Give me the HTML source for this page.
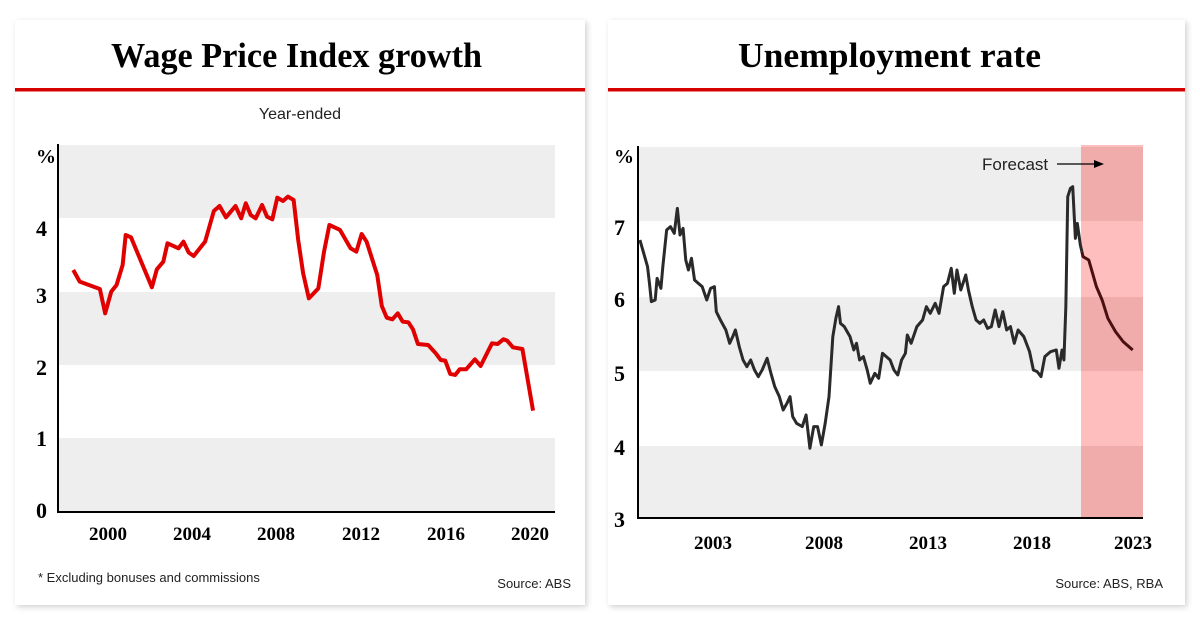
<!DOCTYPE html>
<html><head><meta charset="utf-8"><style>
html,body{margin:0;padding:0;background:#fff;}
svg{display:block;}
</style></head><body>
<svg width="1200" height="617" viewBox="0 0 1200 617" xmlns="http://www.w3.org/2000/svg">
<defs>
<filter id="sh" x="-5%" y="-5%" width="110%" height="110%"><feDropShadow dx="2" dy="2" stdDeviation="3" flood-color="#000" flood-opacity="0.18"/></filter>
</defs>
<rect x="0" y="0" width="1200" height="617" fill="#fff"/>
<rect x="15" y="20" width="570" height="585" fill="#fff" filter="url(#sh)"/>
<rect x="608" y="20" width="577" height="585" fill="#fff" filter="url(#sh)"/>
<rect x="15" y="88" width="570" height="3.5" fill="#d40000"/>
<rect x="608" y="88" width="577" height="3.5" fill="#d40000"/>
<g font-family="Liberation Serif, serif" font-weight="bold" fill="#000">
<text x="111" y="67" font-size="35" textLength="371" lengthAdjust="spacingAndGlyphs">Wage Price Index growth</text>
<text x="738" y="67" font-size="35" textLength="303" lengthAdjust="spacingAndGlyphs">Unemployment rate</text>
</g>
<text x="300" y="119" font-family="Liberation Sans, sans-serif" font-size="16" text-anchor="middle" fill="#222">Year-ended</text>

<!-- left chart -->
<rect x="58" y="145" width="497" height="73" fill="#eeeeee"/>
<rect x="58" y="292" width="497" height="73" fill="#eeeeee"/>
<rect x="58" y="438" width="497" height="74" fill="#eeeeee"/>
<line x1="58" y1="144" x2="58" y2="513" stroke="#000" stroke-width="2"/>
<line x1="57" y1="512" x2="555" y2="512" stroke="#000" stroke-width="2"/>
<g font-family="Liberation Serif, serif" font-weight="bold" font-size="22" fill="#000">
<text x="36" y="163" font-size="20">%</text>
<text x="36" y="236">4</text><text x="36" y="303">3</text><text x="36" y="375">2</text><text x="36" y="446">1</text><text x="36" y="518">0</text>
<g text-anchor="middle" font-size="19">
<text x="108" y="540">2000</text><text x="192" y="540">2004</text><text x="276" y="540">2008</text><text x="361" y="540">2012</text><text x="446" y="540">2016</text><text x="530" y="540">2020</text>
</g>
</g>
<g transform="translate(1.8,130) scale(0.38,0.3333)">
<polyline fill="none" stroke="#e00000" stroke-width="4" vector-effect="non-scaling-stroke" stroke-linejoin="round" points="188,420 205,455 258,477 272,550 288,485 302,465 318,405 326,315 340,322 395,472 408,418 425,395 436,340 465,355 478,335 492,368 505,378 535,335 558,243 573,228 590,262 615,228 630,265 642,220 655,255 668,265 685,225 698,260 712,268 725,203 740,213 753,200 768,210 780,330 793,430 808,505 833,475 848,365 862,285 890,300 918,355 933,365 947,312 960,335 988,435 1000,528 1013,563 1028,568 1042,550 1055,575 1070,577 1082,598 1095,642 1122,645 1142,670 1155,690 1167,692 1180,732 1193,735 1205,718 1222,718 1245,688 1260,708 1290,640 1305,642 1320,628 1330,632 1345,652 1370,657 1398,842"/>
</g>
<g font-family="Liberation Sans, sans-serif" font-size="13" fill="#222">
<text x="38" y="582">* Excluding bonuses and commissions</text>
<text x="571" y="588" text-anchor="end">Source: ABS</text>
<text x="1163" y="588" text-anchor="end">Source: ABS, RBA</text>
</g>

<!-- right chart -->
<rect x="638" y="147" width="505" height="74" fill="#eeeeee"/>
<rect x="638" y="297" width="505" height="74" fill="#eeeeee"/>
<rect x="638" y="446" width="505" height="72" fill="#eeeeee"/>
<rect x="1081" y="145" width="62" height="373" fill="#ffb3b3" opacity="0.85"/>
<rect x="1081" y="147" width="62" height="74" fill="#e8a0a0" opacity="0.6"/>
<rect x="1081" y="297" width="62" height="74" fill="#e8a0a0" opacity="0.6"/>
<rect x="1081" y="446" width="62" height="72" fill="#e8a0a0" opacity="0.6"/>
<line x1="638" y1="146" x2="638" y2="519" stroke="#000" stroke-width="2"/>
<line x1="637" y1="518" x2="1143" y2="518" stroke="#000" stroke-width="2"/>
<g font-family="Liberation Serif, serif" font-weight="bold" font-size="22" fill="#000">
<text x="614" y="163" font-size="20">%</text>
<text x="614" y="235">7</text><text x="614" y="307">6</text><text x="614" y="381">5</text><text x="614" y="455">4</text><text x="614" y="527">3</text>
<g text-anchor="middle" font-size="19">
<text x="713" y="549">2003</text><text x="824" y="549">2008</text><text x="928" y="549">2013</text><text x="1032" y="549">2018</text><text x="1133" y="549">2023</text>
</g>
</g>
<text x="982" y="170" font-family="Liberation Sans, sans-serif" font-size="17" fill="#222">Forecast</text>
<line x1="1057" y1="164" x2="1096" y2="164" stroke="#000" stroke-width="1.2"/>
<polygon points="1104,164 1094,160 1094,168" fill="#000"/>
<g transform="translate(599.8,130) scale(0.382,0.3333)">
<polyline fill="none" stroke="#2a2a2a" stroke-width="3" vector-effect="non-scaling-stroke" stroke-linejoin="round" points="105,330 115,370 125,410 130,460 135,515 145,510 150,445 160,475 165,410 175,300 185,290 195,310 203,235 210,315 218,295 225,390 232,420 240,385 248,450 258,460 268,470 280,510 290,475 300,470 305,545 318,575 330,600 340,640 348,620 355,600 365,650 375,690 385,710 395,690 405,720 415,740 425,720 438,685 448,730 458,770 470,800 480,840 490,820 498,800 505,860 515,880 530,890 540,855 550,955 560,890 570,890 580,945 590,880 600,800 610,620 618,565 625,530 630,580 640,590 655,620 665,660 672,640 680,690 690,680 700,720 708,760 720,730 730,745 740,670 750,680 760,690 770,720 780,735 790,690 800,670 805,615 815,640 830,590 845,570 855,530 865,550 878,520 888,550 900,470 910,460 920,415 928,490 935,420 945,480 958,435 965,480 975,530 985,570 995,580 1005,570 1015,595 1025,590 1035,540 1045,590 1055,545 1065,600 1075,590 1085,640 1095,600 1110,620 1125,665 1135,720 1145,725 1155,740 1165,680 1180,665 1195,660 1202,715 1210,660 1215,690 1220,530 1225,200 1232,175 1238,170 1245,325 1250,280 1258,345 1262,365"/>
<polyline fill="none" stroke="#4a1010" stroke-width="3" vector-effect="non-scaling-stroke" stroke-linejoin="round" points="1262,365 1265,380 1280,390 1290,430 1300,470 1315,510 1330,565 1350,605 1370,635 1395,660"/>
</g>
</svg>
</body></html>
